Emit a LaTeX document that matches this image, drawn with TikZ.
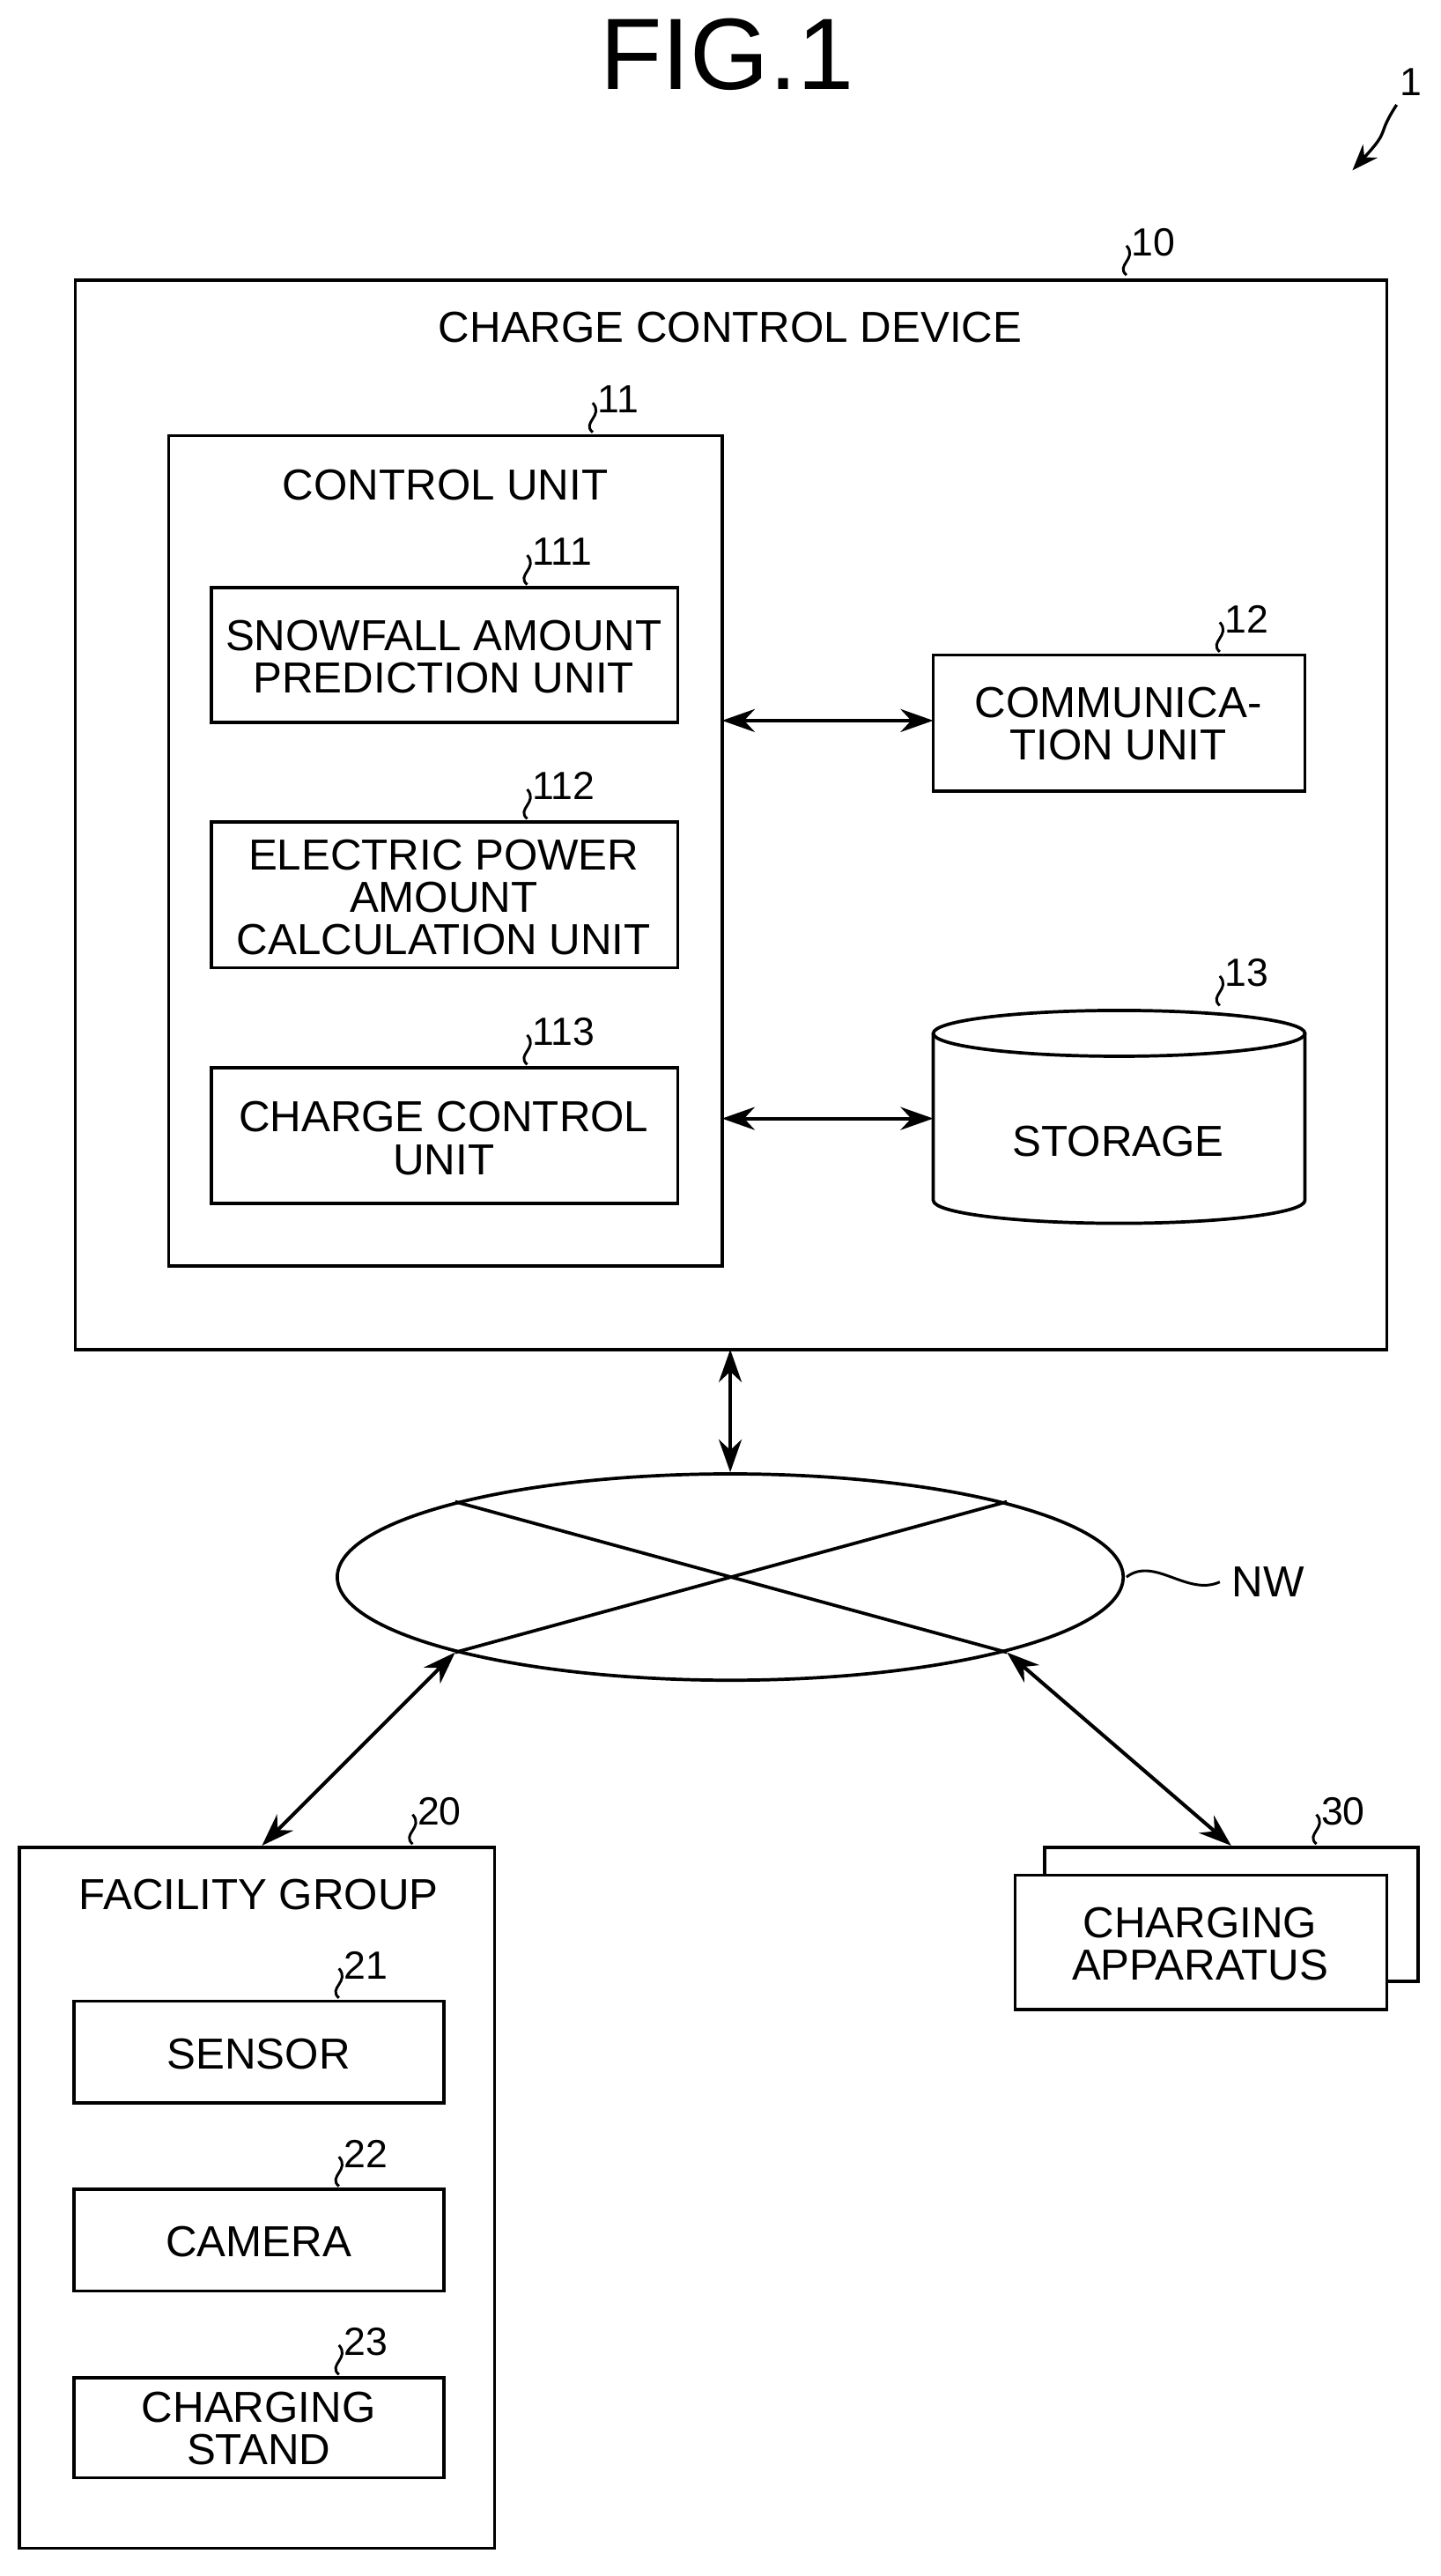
\documentclass[tikz,border=0pt]{standalone}
\usepackage{fontspec}
\setmainfont{Liberation Sans}
\usetikzlibrary{shapes.geometric,arrows.meta}
\begin{document}
\begin{tikzpicture}[x=1pt,y=-1pt,line width=2pt,
  box/.style={draw,line width=2pt,inner sep=0pt},
  txt/.style={font=\fontsize{26.5}{26}\selectfont,align=center},
  num/.style={font=\fontsize{24}{24}\selectfont,anchor=west,inner sep=1pt},
  dbl/.style={{Stealth[length=20pt,width=14pt]}-{Stealth[length=20pt,width=14pt]},line width=2.2pt}]
\useasboundingbox (0,0) rectangle (880,1573);
\newcommand{\refsq}[4]{% x y name text
  \draw[line width=1.6pt] (#1,#2) .. controls (#1-7,#2-6) and (#1+7,#2-10) .. (#1,#2-18);
  \node[num] (#3) at (#1+1,#2-20) {#4};}
\node[font=\fontsize{62}{62}\selectfont] (title) at (444,33) {FIG.1};
\node[font=\fontsize{24}{24}\selectfont] (one) at (862,50) {1};
\coordinate (onetip) at (826,104);
\draw[-{Stealth[length=16pt,width=12pt]},line width=1.8pt] (853,64) .. controls (840,84) and (850,78) .. (onetip);
% main box
\draw[box] (46,171) rectangle (847,824);
\node[txt] (ccd) at (446,200) {CHARGE CONTROL DEVICE};
\refsq{688}{168}{n10}{10}
\draw[box] (103,266) rectangle (441,773);
\node[txt] (cu) at (272,296) {CONTROL UNIT};
\refsq{362}{264}{n11}{11}
\draw[box] (129,359) rectangle (414,441);
\node[txt] (b111) at (271,401) {SNOWFALL AMOUNT\\PREDICTION UNIT};
\refsq{322}{357}{n111}{111}
\draw[box] (129,502) rectangle (414,591);
\node[txt] (b112) at (271,548) {ELECTRIC POWER\\AMOUNT\\CALCULATION UNIT};
\refsq{322}{500}{n112}{112}
\draw[box] (129,652) rectangle (414,735);
\node[txt] (b113) at (271,695) {CHARGE CONTROL\\UNIT};
\refsq{322}{650}{n113}{113}
\draw[box] (570,400) rectangle (797,483);
\node[txt] (b12) at (683,442) {COMMUNICA-\\TION UNIT};
\refsq{745}{398}{n12}{12}
% storage
\draw[box] (570,631) -- (570,733) arc[start angle=180,end angle=0,x radius=113.5,y radius=14] -- (797,631);
\draw[box] (683.5,631) ellipse[x radius=113.5,y radius=14];
\node[txt] (b13) at (683,697) {STORAGE};
\refsq{745}{614}{n13}{13}
\coordinate (a1) at (441,440); \coordinate (a2) at (570,440);
\draw[dbl] (a1) -- (a2);
\coordinate (a3) at (441,683); \coordinate (a4) at (570,683);
\draw[dbl] (a3) -- (a4);
% network
\coordinate (v1) at (446,824); \coordinate (v2) at (446,899);
\draw[dbl] (v1) -- (v2);
\draw[box] (446,963) ellipse[x radius=240,y radius=63];
\coordinate (tl) at (278,917); \coordinate (br) at (615,1009);
\coordinate (tr) at (615,917); \coordinate (bl) at (278,1009);
\draw (tl) -- (br); \draw (tr) -- (bl);
\draw[line width=1.6pt] (688,963) .. controls (705,950) and (725,975) .. (745,966);
\node[txt,anchor=west] (nw) at (748,966) {NW};
\coordinate (f1) at (160,1127);
\coordinate (c1) at (752,1127);
\draw[dbl] (bl) -- (f1);
\draw[dbl] (br) -- (c1);
% facility group
\draw[box] (12,1128) rectangle (302,1556);
\node[txt] (fg) at (158,1157) {FACILITY GROUP};
\refsq{252}{1126}{n20}{20}
\draw[box] (45,1222) rectangle (271,1284);
\node[txt] (s21) at (158,1254) {SENSOR};
\refsq{207}{1220}{n21}{21}
\draw[box] (45,1337) rectangle (271,1399);
\node[txt] (s22) at (158,1369) {CAMERA};
\refsq{207}{1335}{n22}{22}
\draw[box] (45,1452) rectangle (271,1513);
\node[txt] (s23) at (158,1483) {CHARGING\\STAND};
\refsq{207}{1450}{n23}{23}
% charging apparatus
\draw[box] (638,1128) rectangle (866,1210);
\draw[box,fill=white] (620,1145) rectangle (847,1227);
\node[txt] (ca) at (733,1187) {CHARGING\\APPARATUS};
\refsq{804}{1126}{n30}{30}
\end{tikzpicture}
\end{document}
